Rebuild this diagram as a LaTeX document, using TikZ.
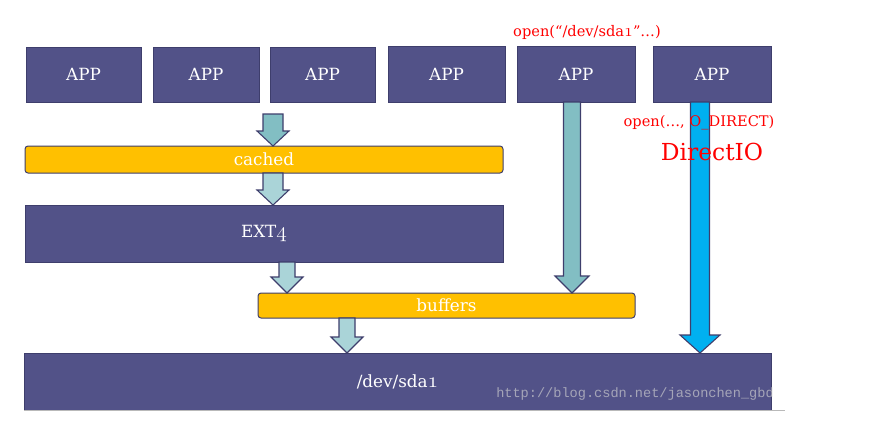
\documentclass[tikz,border=0pt]{standalone}
\usepackage{fontspec}
\usetikzlibrary{calc}
\setmainfont{DejaVu Serif}
\newfontfamily\wmfont{Liberation Mono}
% old-style digit from the Latin Modern math italic font, enlarged to the serif's x-height
\newcommand{\osf}[1]{\scalebox{1.25}{\usefont{OML}{lmm}{m}{it}#1}}
\definecolor{boxfill}{RGB}{82,82,136}
\definecolor{boxline}{RGB}{62,62,108}
\definecolor{barfill}{RGB}{255,192,0}
\definecolor{tealdark}{RGB}{130,190,195}
\definecolor{teallight}{RGB}{170,212,216}
\definecolor{directblue}{RGB}{0,176,240}
\definecolor{labelred}{RGB}{255,0,0}
\tikzset{
  layerbox/.style={draw=boxline, line width=1pt, fill=boxfill, inner sep=0pt, outer sep=0pt,
    text=white, font=\fontsize{16.8}{19}\selectfont},
  cachebar/.style={draw=boxline, line width=1pt, fill=barfill, rounded corners=3pt,
    inner sep=0pt, outer sep=0pt, text=white, font=\fontsize{16.8}{19}\selectfont},
  redlabel/.style={text=labelred, inner sep=0pt, font=\fontsize{14.6}{17}\selectfont},
  arrowline/.style={draw=boxline, line width=1.1pt, line join=miter},
}
% block arrow: fill, top point, tip point, shaft half width, head half width, head length
\newcommand{\blockarrow}[6]{%
  \draw[arrowline, fill=#1] let \p1=(#2), \p2=(#3) in
    (\x1-#4pt,\y1) -- (\x1-#4pt,\y2+#6pt) -- (\x1-#5pt,\y2+#6pt) -- (\x1,\y2)
    -- (\x1+#5pt,\y2+#6pt) -- (\x1+#4pt,\y2+#6pt) -- (\x1+#4pt,\y1) -- cycle;}
\begin{document}
\begin{tikzpicture}[x=1pt,y=-1pt]
\useasboundingbox (0,0) rectangle (869,426);

% applications
\node[layerbox, minimum width=115, minimum height=55] (app1) at (83.5,74.5) {APP};
\node[layerbox, minimum width=106, minimum height=55] (app2) at (206,74.5) {APP};
\node[layerbox, minimum width=105, minimum height=55] (app3) at (322.5,74.5) {APP};
\node[layerbox, minimum width=117, minimum height=56] (app4) at (446.5,74) {APP};
\node[layerbox, minimum width=118, minimum height=56] (app5) at (576,74) {APP};
\node[layerbox, minimum width=118, minimum height=56] (app6) at (712,74) {APP};

% kernel layers
\node[cachebar, minimum width=478, minimum height=27] (cached) at (264,159.5) {cached};
\node[layerbox, minimum width=478, minimum height=57] (ext4) at (264,233.5) {EXT\osf{4}};
\node[cachebar, minimum width=377, minimum height=25] (buffers) at (446.5,305.5) {buffers};
\node[layerbox, minimum width=747, minimum height=57] (sda) at (397.5,381.5) {/dev/sda\osf{1}};
\coordinate (rule end) at (785,410.5);
\draw[gray!55, line width=0.8pt] (sda.south west) -- (rule end |- sda.south);

% data paths
\coordinate (a1top) at (273,114);
\blockarrow{tealdark}{a1top}{273,0 |- cached.north}{10}{16}{15}
\blockarrow{teallight}{273,0 |- cached.south}{273,0 |- ext4.north}{10}{16}{15}
\blockarrow{teallight}{287,0 |- ext4.south}{287,0 |- buffers.north}{8}{16}{16}
\blockarrow{teallight}{347,0 |- buffers.south}{347,0 |- sda.north}{8}{16}{16}
\blockarrow{tealdark}{572,0 |- app5.south}{572,0 |- buffers.north}{8.5}{17}{17}
\blockarrow{directblue}{700,0 |- app6.south}{700,0 |- sda.north}{9.5}{20}{18}

% call annotations
\node[redlabel] (openraw) at (587,32) {open(“/dev/sda\osf{1}”…)};
\node[redlabel] (opendirect) at (699,123) {open(…, O\_DIRECT)};
\node[redlabel, font=\fontsize{23.4}{26}\selectfont] (directio) at (712,152) {DirectIO};

% site address
\node[text=white!65!gray, opacity=0.65, inner sep=0pt, font=\wmfont\fontsize{13.6}{15}\selectfont]
  (url) at (635,394) {http://blog.csdn.net/jasonchen\_gbd};
\end{tikzpicture}
\end{document}
